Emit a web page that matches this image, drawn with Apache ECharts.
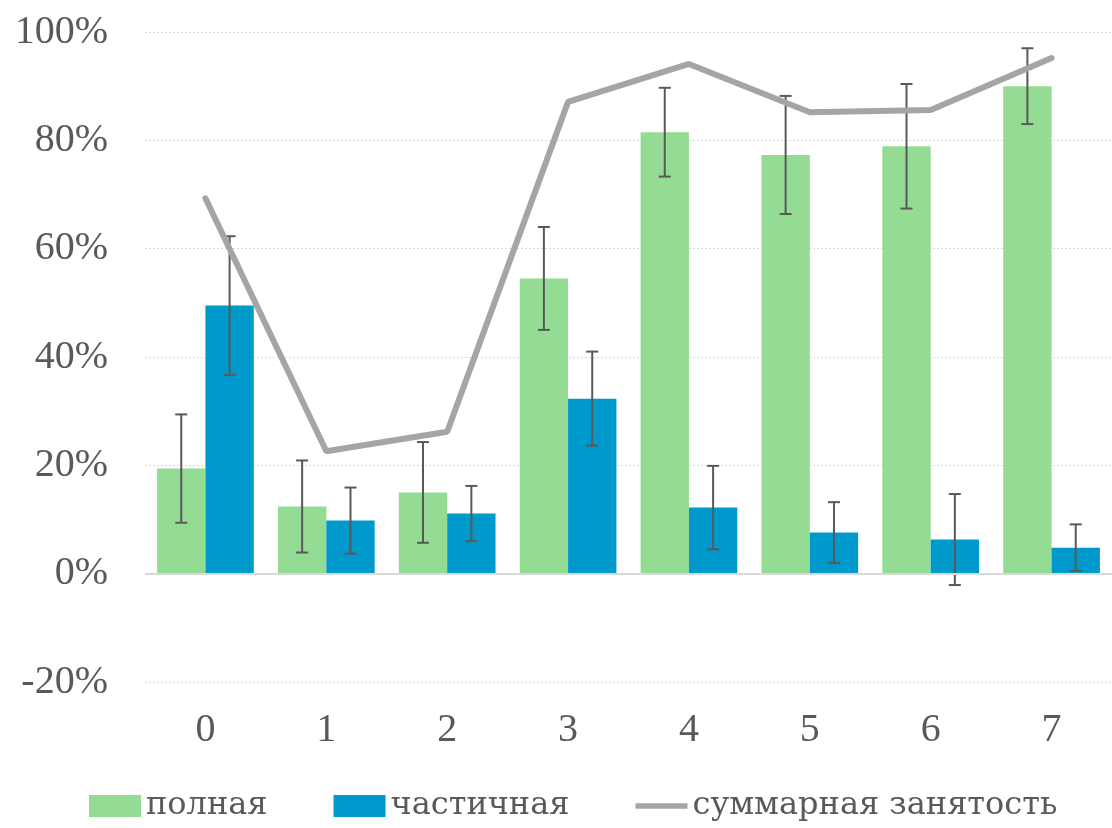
<!DOCTYPE html>
<html>
<head>
<meta charset="utf-8">
<script src="https://cdn.jsdelivr.net/npm/echarts@6/dist/echarts.min.js"></script>
<style>
  html, body { margin: 0; padding: 0; background: #fff; }
  #chart { width: 1112px; height: 828px; }
</style>
</head>
<body>
<div id="chart"></div>
<script>
// данные (в процентах)
const categories = ['0', '1', '2', '3', '4', '5', '6', '7']
const full = [19.4, 12.4, 15.0, 54.5, 81.5, 77.3, 78.9, 90.0]
const fullErr = [10.0, 8.5, 9.3, 9.5, 8.2, 10.9, 11.5, 7.0]
const partial = [49.5, 9.8, 11.1, 32.3, 12.2, 7.6, 6.3, 4.8]
const partialErr = [12.8, 6.1, 5.1, 8.7, 7.7, 5.6, 8.4, 4.3]
const total = [69.3, 22.6, 26.2, 87.1, 94.1, 85.2, 85.6, 95.2]
const yMin = -20
const yMax = 100
const yStep = 20

const font = '"Liberation Serif", "DejaVu Serif", serif'
const legendFont = '"DejaVu Serif", serif'
const textColor = '#595959'

function errData(values, errs) {
  return values.map((v, i) => [i, v - errs[i], v + errs[i]])
}

// усы погрешностей, смещение = доля ширины категории
function errRender(shift) {
  return function(params, api) {
    const band = api.size([1, 0])[0]
    const lo = api.coord([api.value(0), api.value(1)])
    const hi = api.coord([api.value(0), api.value(2)])
    const x = lo[0] + band * shift
    const cap = 6
    const style = { stroke: '#595959', lineWidth: 2, fill: null }
    return {
      type: 'group',
      children: [
        { type: 'line', shape: { x1: x, y1: lo[1], x2: x, y2: hi[1] }, style: style },
        { type: 'line', shape: { x1: x - cap, y1: lo[1], x2: x + cap, y2: lo[1] }, style: style },
        { type: 'line', shape: { x1: x - cap, y1: hi[1], x2: x + cap, y2: hi[1] }, style: style }
      ]
    }
  }
}

const chart = echarts.init(document.getElementById('chart'))
chart.setOption({
  animation: false,
  textStyle: { fontFamily: font, color: textColor },
  grid: { left: 145, right: 0, top: 32, bottom: 146 },
  legend: {
    left: 89,
    top: 790,
    padding: 0,
    itemWidth: 52,
    itemHeight: 22,
    itemGap: 66,
    textStyle: { fontFamily: legendFont, fontSize: 32, color: textColor },
    data: [
      { name: 'полная', icon: 'rect' },
      { name: 'частичная', icon: 'rect' },
      { name: 'суммарная занятость', icon: 'path://M0,0H56V6H0Z' }
    ]
  },
  xAxis: {
    type: 'category',
    data: categories,
    axisLine: { show: false, onZero: false },
    axisTick: { show: false },
    axisLabel: { fontFamily: font, fontSize: 40, color: textColor, margin: 28 }
  },
  yAxis: {
    type: 'value',
    min: yMin,
    max: yMax,
    interval: yStep,
    axisLine: { show: false },
    axisTick: { show: false },
    axisLabel: { fontFamily: font, fontSize: 40, color: textColor, margin: 37, formatter: '{value}%' },
    splitLine: { lineStyle: { color: '#D9D9D9', width: 1, type: [2, 2] } }
  },
  series: [
    {
      name: 'полная',
      type: 'bar',
      data: full,
      barWidth: '40%',
      barGap: '0%',
      itemStyle: { color: '#94DC94' },
      markLine: {
        silent: true,
        symbol: 'none',
        label: { show: false },
        lineStyle: { color: '#D9D9D9', width: 2, type: 'solid' },
        data: [{ yAxis: 0 }]
      }
    },
    {
      name: 'частичная',
      type: 'bar',
      data: partial,
      barWidth: '40%',
      barGap: '0%',
      itemStyle: { color: '#0099CC' }
    },
    {
      name: 'full-err',
      type: 'custom',
      renderItem: errRender(-0.2),
      data: errData(full, fullErr),
      encode: { x: 0, y: [1, 2] },
      z: 3
    },
    {
      name: 'partial-err',
      type: 'custom',
      renderItem: errRender(0.2),
      data: errData(partial, partialErr),
      encode: { x: 0, y: [1, 2] },
      z: 3
    },
    {
      name: 'суммарная занятость',
      type: 'line',
      data: total,
      symbol: 'none',
      lineStyle: { color: '#A5A5A5', width: 6, cap: 'round' },
      itemStyle: { color: '#A5A5A5' },
      z: 5
    }
  ]
})
</script>
</body>
</html>
